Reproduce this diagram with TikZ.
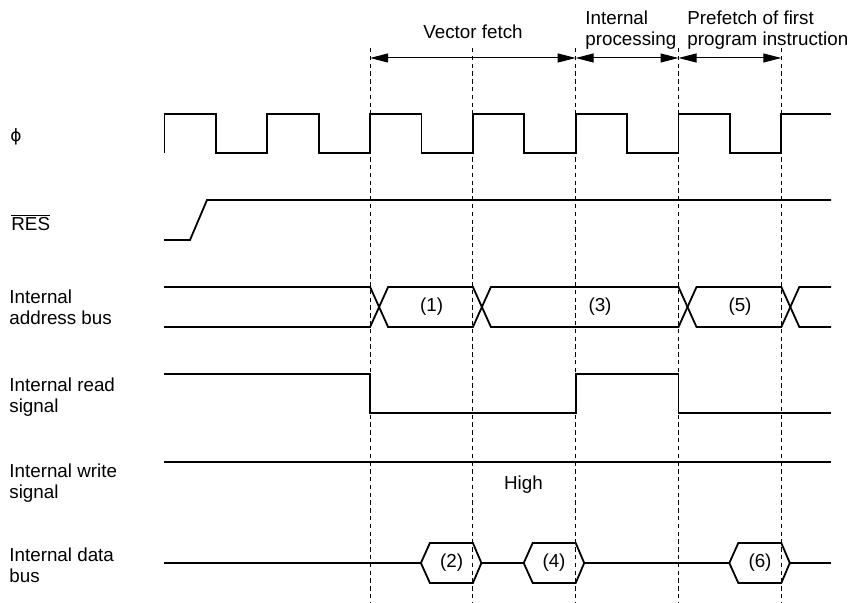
\documentclass[tikz,border=0pt]{standalone}
\usepackage{fontspec}
\setmainfont{Liberation Sans}
\newfontfamily\greekfont{DejaVu Sans}
\usetikzlibrary{arrows.meta}

\tikzset{
    sig/.style={line width=0.9pt, line join=miter},
    guide/.style={line width=0.45pt, dash pattern=on 2.2pt off 1.7pt},
    span/.style={line width=0.5pt,
        {Triangle[length=9pt, width=4.5pt]}-{Triangle[length=9pt, width=4.5pt]}},
    lbl/.style={anchor=north west, inner sep=0pt, align=left},
}

\begin{document}
\begin{tikzpicture}[x=0.5pt, y=-0.5pt, font=\fontsize{9.4}{10.5}\selectfont]
    \def\ta{370.1}
    \def\tb{472.9}
    \def\tc{575.7}
    \def\td{678.5}
    \def\te{781.3}
    \def\h{51.4}

    \useasboundingbox (0, 0) rectangle (850, 603);

    \foreach \t in {\ta, \tb, \tc, \td, \te}
        \draw[guide] (\t, 48) -- (\t, 603);

    \coordinate (fa) at (\ta, 58);
    \coordinate (fc) at (\tc, 58);
    \coordinate (fd) at (\td, 58);
    \coordinate (fe) at (\te, 58);
    \draw[span] (fa) -- (fc);
    \draw[span] (fc) -- (fd);
    \draw[span] (fd) -- (fe);

    \node[anchor=north, inner sep=0pt] (vf) at (473, 24) {Vector fetch};
    \node[lbl] (ip) at (585, 10) {Internal\\processing};
    \node[lbl] (pf) at (687, 10) {Prefetch of first\\program instruction};

    \node (phi) at (16, 137) {\greekfont\fontsize{8.5}{10}\selectfont ϕ};
    \node[anchor=base west, inner sep=0pt] (res) at (11, 231) {$\overline{\mbox{RES}}$};
    \node[lbl] (addr) at (9, 289) {Internal\\address bus};
    \node[lbl] (rd) at (9, 377) {Internal read\\signal};
    \node[lbl] (wr) at (9, 463) {Internal write\\signal};
    \node[lbl] (data) at (9, 547) {Internal data\\bus};

    % clock
    \draw[sig] (164.5, 153) -- (164.5, 114)
        foreach \i in {1,...,6} { -- ++(\h, 0) -- ++(0, 39) -- ++(\h, 0) -- ++(0, -39) }
        -- (831, 114);

    \draw[sig] (164, 240) -- (190, 240) -- (207, 200) -- (831, 200);

    % address bus
    \draw[sig] (164, 287) -- (\ta, 287) -- (\ta + 18, 327) -- (\tb, 327) -- (\tb + 18, 287)
        -- (\td, 287) -- (\td + 18, 327) -- (\te, 327) -- (\te + 18, 287) -- (831, 287);
    \draw[sig] (164, 327) -- (\ta, 327) -- (\ta + 18, 287) -- (\tb, 287) -- (\tb + 18, 327)
        -- (\td, 327) -- (\td + 18, 287) -- (\te, 287) -- (\te + 18, 327) -- (831, 327);
    \node (a1) at (431.7, 307) {(1)};
    \node (a3) at (600, 307) {(3)};
    \node (a5) at (740, 307) {(5)};

    \draw[sig] (164, 374) -- (\ta, 374) -- (\ta, 413) -- (\tc, 413) -- (\tc, 374)
        -- (\td, 374) -- (\td, 413) -- (831, 413);

    \draw[sig] (164, 462) -- (831, 462);
    \node[anchor=north, inner sep=0pt] (high) at (523.5, 475) {High};

    % data bus
    \draw[sig] (164, 563) -- (\tb - 52, 563);
    \draw[sig] (\tb + 8.5, 563) -- (\tc - 52, 563);
    \draw[sig] (\tc + 8.5, 563) -- (\te - 52, 563);
    \draw[sig] (\te + 8.5, 563) -- (831, 563);
    \foreach \t in {\tb, \tc, \te}
        \draw[sig] (\t - 52, 563) -- (\t - 43, 543) -- (\t, 543) -- (\t + 8.5, 563)
            -- (\t, 583) -- (\t - 43, 583) -- cycle;
    \node (d2) at (451.7, 563) {(2)};
    \node (d4) at (554, 563) {(4)};
    \node (d6) at (760, 563) {(6)};
\end{tikzpicture}
\end{document}
